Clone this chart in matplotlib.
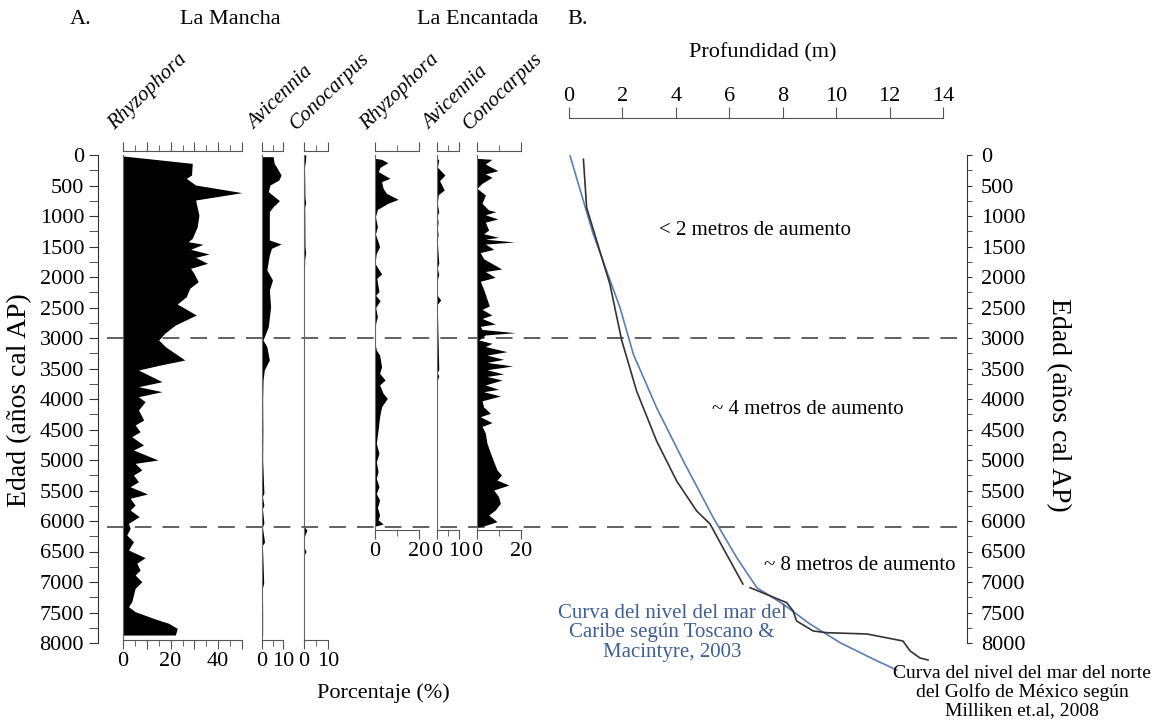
import numpy as np
import matplotlib
matplotlib.use("Agg")
import matplotlib.pyplot as plt
from matplotlib.ticker import FixedLocator, FixedFormatter

plt.rcParams['font.family'] = ['Liberation Serif', 'DejaVu Serif']
plt.rcParams['lines.scale_dashes'] = False

# ---- pollen data: (age cal BP, percent) ----
lm_rhizophora = [(16, 0), (137, 29.1), (328, 28.8), (383, 26.6), (492, 30.5), (617, 50.0), (738, 30.5),
                 (984, 31.9), (1175, 31.2), (1366, 29.1), (1421, 27.4), (1464, 33.6), (1546, 28.4),
                 (1623, 36.2), (1678, 30.5), (1776, 35.5), (1858, 28.4), (1940, 29.8), (2077, 31.6),
                 (2186, 28.0), (2323, 26.6), (2443, 22.8), (2623, 30.8), (2787, 22.0), (2923, 17.5),
                 (3033, 15.0), (3142, 17.8), (3361, 26.0), (3443, 15.7), (3525, 6.5), (3716, 16.4),
                 (3798, 6.5), (3880, 16.4), (3962, 6.5), (4044, 9.3), (4180, 6.5), (4344, 8.7),
                 (4426, 5.1), (4536, 7.2), (4618, 3.7), (4754, 8.6), (4836, 4.4), (5000, 14.7),
                 (5055, 5.1), (5164, 7.9), (5246, 4.4), (5356, 6.5), (5438, 3.0), (5557, 10.3),
                 (5628, 3.0), (5738, 5.1), (5820, 3.0), (5929, 6.8), (6038, 2.3), (6120, 3.0),
                 (6230, 1.6), (6339, 4.4), (6475, 2.3), (6601, 9.3), (6693, 5.8), (6803, 7.2),
                 (6885, 5.1), (6995, 7.9), (7104, 5.1), (7322, 3.7), (7404, 2.3), (7486, 5.1),
                 (7607, 13.6), (7677, 19.2), (7760, 22.8), (7869, 22.0), (7870, 0)]
lm_avicennia = [(27, 5.3), (137, 5.8), (191, 6.8), (328, 9.1), (410, 8.0), (492, 3.8), (601, 3.0),
                (749, 8.3), (847, 5.3), (929, 3.5), (1393, 3.5), (1459, 9.1), (1530, 4.5), (1639, 3.5),
                (1885, 2.3), (2049, 5.0), (2213, 3.5), (2486, 4.1), (2814, 3.0), (3033, 0.5),
                (3142, 2.3), (3361, 3.5), (3525, 1.1), (3689, 0.5), (4000, 0.3), (4500, 0.4),
                (5000, 0.3), (5541, 0.9), (5600, 0.2), (5738, 0.9), (5800, 0.2), (6033, 0.9),
                (6100, 0.2), (6344, 1.2), (6400, 0.2), (7016, 0.8), (7100, 0.2), (7500, 0.3),
                (7870, 0.3), (7871, 0)]
lm_conocarpus = [(0, 0.8), (100, 0.6), (200, 0.2), (700, 0.4), (780, 0.7), (850, 0.3), (1500, 0.4),
                 (1600, 0.7), (1700, 0.3), (2000, 0.1), (6100, 0.2), (6150, 1.2), (6250, 0.2),
                 (6450, 0.2), (6500, 0.9), (6550, 0.1), (7870, 0.1)]
le_rhizophora = [(55, 0), (71, 3.0), (126, 5.8), (202, 2.3), (273, 1.5), (383, 6.8), (437, 3.0),
                 (546, 3.7), (628, 5.2), (727, 10.5), (792, 5.9), (891, 1.1), (1011, 0.2), (1175, 1.1),
                 (1300, 0.2), (1421, 1.4), (1503, 2.1), (1612, 0.6), (1776, 0), (1951, 3.0),
                 (2021, 0.8), (2240, 1.8), (2300, 0.3), (2388, 2.3), (2500, 0.3), (2650, 1.1),
                 (2760, 0.3), (2978, 0), (3087, 0), (3197, 0.6), (3279, 2.1), (3470, 3.0), (3579, 2.1),
                 (3689, 4.6), (3770, 2.1), (3907, 3.7), (3989, 5.6), (4126, 3.0), (4290, 2.1),
                 (4508, 1.4), (4727, 0.6), (4891, 1.8), (5030, 0.6), (5191, 1.4), (5300, 0.6),
                 (5437, 1.8), (5550, 0.6), (5656, 2.1), (5780, 1.1), (5902, 2.1), (5980, 1.4),
                 (6049, 3.7), (6085, 0)]
le_avicennia = [(55, 0), (82, 0.8), (200, 0.2), (328, 3.6), (420, 1.2), (574, 3.3), (650, 0.6),
                (800, 0.1), (929, 0.8), (1000, 0.1), (1100, 0.5), (1200, 0.1), (1300, 0.5), (1400, 0.1),
                (1776, 0.8), (1850, 0.1), (1957, 0.8), (2050, 0.1), (2300, 0.1), (2377, 1.7),
                (2450, 0.1), (3515, 0.8), (3570, 0.1), (3620, 0.8), (3700, 0.1), (6085, 0.1)]
le_conocarpus = [(55, 0), (71, 6.8), (148, 3.8), (257, 9.5), (310, 3.8), (366, 6.8), (464, 2.3),
                 (546, 0), (656, 3.8), (792, 2.3), (902, 5.3), (929, 8.6), (980, 3.8), (1049, 9.5),
                 (1100, 3.8), (1230, 5.3), (1290, 3.0), (1350, 9.8), (1380, 3.8), (1426, 17.0),
                 (1460, 3.8), (1546, 7.6), (1600, 1.5), (1700, 3.0), (1869, 11.2), (1910, 3.8),
                 (2005, 8.3), (2070, 1.5), (2200, 3.0), (2475, 5.6), (2530, 2.3), (2623, 6.8),
                 (2680, 2.3), (2770, 8.3), (2810, 1.5), (2860, 2.3), (2913, 17.4), (2950, 3.8),
                 (3033, 0.8), (3087, 6.8), (3140, 3.8), (3224, 13.6), (3280, 4.5), (3350, 12.1),
                 (3400, 4.5), (3459, 16.2), (3520, 4.5), (3590, 12.1), (3630, 4.5), (3689, 11.4),
                 (3770, 3.8), (3841, 9.8), (3880, 3.0), (3951, 10.6), (4030, 2.3), (4130, 3.0),
                 (4235, 6.1), (4290, 1.5), (4388, 6.8), (4450, 2.3), (4560, 3.8), (4721, 4.5),
                 (4885, 6.1), (5027, 7.6), (5164, 9.1), (5246, 11.1), (5330, 9.1), (5410, 14.5),
                 (5492, 7.6), (5601, 9.8), (5710, 10.6), (5820, 8.3), (5902, 5.3), (6011, 9.1),
                 (6082, 3.0), (6100, 0)]

# ---- sea level curves: (depth m, age cal BP) ----
toscano_caribe = [(0.04, 16), (0.91, 1300), (1.91, 2503), (2.41, 3267), (3.28, 4143), (4.28, 5016),
                  (5.40, 5946), (6.28, 6602), (7.03, 7093), (8.01, 7361), (9.02, 7689), (10.15, 7995),
                  (11.38, 8262), (12.27, 8443)]
milliken_upper = [(0.54, 70), (0.66, 864), (1.04, 1410), (1.53, 2115), (1.97, 3033), (2.53, 3869),
                  (3.28, 4689), (4.03, 5344), (4.78, 5836), (5.28, 6049), (5.77, 6443), (6.51, 7033)]
milliken_lower = [(6.78, 7093), (8.15, 7339), (8.39, 7475), (8.52, 7639), (9.14, 7803), (9.65, 7831),
                  (11.15, 7852), (12.50, 7967), (12.77, 8131), (13.14, 8246), (13.44, 8279)]

zone_limits = [3000, 6100]
age_ticks = np.arange(0, 8001, 500)
depth_ticks = np.arange(0, 15, 2)

W, H = 1155, 727
AGE_TOP = (100 - 155) / 0.061
AGE_BOT = (700 - 155) / 0.061


def rect(x0, x1):
    return [x0 / W, 1 - 700 / H, (x1 - x0) / W, 600 / H]


fig = plt.figure(figsize=(W / 100, H / 100), dpi=100)

# frame with both age axes and the zone lines
frame = fig.add_axes(rect(98, 967))
frame.set_facecolor('none')
frame.set_xlim(0, 1)
frame.set_ylim(AGE_BOT, AGE_TOP)
for s in ['top', 'bottom']:
    frame.spines[s].set_visible(False)
for s in ['left', 'right']:
    frame.spines[s].set_bounds(0, 8000)
    frame.spines[s].set_color('#333333')
frame.set_xticks([])
frame.yaxis.set_major_locator(FixedLocator(age_ticks))
frame.yaxis.set_minor_locator(FixedLocator(age_ticks[:-1] + 250))
frame.tick_params(axis='y', which='both', left=True, right=True, labelleft=True, labelright=True,
                  direction='out', labelsize=16, color='#333333', length=6.5, pad=3.5)
for t in frame.yaxis.get_major_ticks() + frame.yaxis.get_minor_ticks():
    t.tick2line.set_markersize(3.5)
for z in zone_limits:
    frame.axhline(z, xmin=(107 - 98) / (967 - 98), xmax=(960 - 98) / (967 - 98),
                  color='#555555', lw=1.3, dashes=(12, 8))

# panel B: sea level curves
axb = fig.add_axes(rect(569, 943))
axb.set_facecolor('none')
axb.set_xlim(0, 14)
axb.set_ylim(AGE_BOT, AGE_TOP)
for s in ['left', 'right', 'bottom']:
    axb.spines[s].set_visible(False)
axb.spines['top'].set_position(('data', (118 - 155) / 0.061))
axb.spines['top'].set_color('#555555')
axb.set_yticks([])
axb.set_xticks(depth_ticks)
axb.tick_params(axis='x', top=True, bottom=False, labeltop=True, labelbottom=False,
                direction='out', length=8, pad=1, labelsize=16, color='#555555')
d, a = zip(*toscano_caribe)
axb.plot(d, a, color='#5a7db5', lw=1.2, clip_on=False)
for seg in [milliken_upper, milliken_lower]:
    d, a = zip(*seg)
    axb.plot(d, a, color='#333333', lw=1.2, clip_on=False)

# panel A: pollen diagrams
panels = [
    ('Rhyzophora', lm_rhizophora, 123, 242, 50, [0, 10, 20, 30, 40, 50], ['0', '', '20', '', '40', ''],
     [5, 15, 25, 35, 45], 7950),
    ('Avicennia', lm_avicennia, 262, 283, 10, [0, 10], ['0', '10'], [5], 7950),
    ('Conocarpus', lm_conocarpus, 304, 328, 10, [0, 10], ['0', '10'], [5], 7950),
    ('Rhyzophora', le_rhizophora, 375, 419, 20, [0, 20], ['0', '20'], [10], 6150),
    ('Avicennia', le_avicennia, 437, 459, 10, [0, 10], ['0', '10'], [5], 6150),
    ('Conocarpus', le_conocarpus, 477, 521, 20, [0, 20], ['0', '20'], [10], 6150),
]
for name, data, x0, x1, xmax, major, labels, minor, bottom in panels:
    ax = fig.add_axes(rect(x0, x1))
    ax.set_facecolor('none')
    ax.set_xlim(0, xmax)
    ax.set_ylim(AGE_BOT, AGE_TOP)
    a, v = zip(*data)
    ax.fill_betweenx(a, 0, v, color='black', lw=0, clip_on=False)
    ax.spines['right'].set_visible(False)
    ax.spines['left'].set_bounds(0, bottom)
    ax.spines['left'].set_color('#666666')
    ax.spines['top'].set_position(('data', -65))
    ax.spines['bottom'].set_position(('data', bottom))
    for s in ['top', 'bottom']:
        ax.spines[s].set_bounds(0, xmax)
        ax.spines[s].set_color('#555555')
    ax.set_yticks([])
    ax.xaxis.set_major_locator(FixedLocator(major))
    ax.xaxis.set_major_formatter(FixedFormatter(labels))
    ax.xaxis.set_minor_locator(FixedLocator(minor))
    ax.tick_params(axis='x', which='both', top=True, bottom=True, labeltop=False, labelbottom=True,
                   direction='out', color='#555555', labelsize=16)
    ax.tick_params(axis='x', which='major', length=6.5, pad=2)
    ax.tick_params(axis='x', which='minor', length=4)
    fig.text((x0 - 8) / W, 1 - 130 / H, name, rotation=44, rotation_mode='anchor',
             ha='left', va='baseline', style='italic', fontsize=15)

# texts
def ftext(x, y, s, **kw):
    fig.text(x / W, 1 - y / H, s, **kw)

ftext(70, 20, 'A.', fontsize=16, ha='left', va='center')
ftext(230, 20, 'La Mancha', fontsize=16, ha='center', va='center')
ftext(478, 20, 'La Encantada', fontsize=16, ha='center', va='center')
ftext(567, 20, 'B.', fontsize=16, ha='left', va='center')
ftext(763, 53, 'Profundidad (m)', fontsize=16, ha='center', va='center')
ftext(20, 400, 'Edad (años cal AP)', fontsize=20, ha='center', va='center', rotation=90)
ftext(1058, 405, 'Edad (años cal AP)', fontsize=20, ha='center', va='center', rotation=270)
ftext(383, 693, 'Porcentaje (%)', fontsize=16, ha='center', va='center')
ftext(755, 230, '< 2 metros de aumento', fontsize=15, ha='center', va='center')
ftext(808, 410, '~ 4 metros de aumento', fontsize=15, ha='center', va='center')
ftext(860, 566, '~ 8 metros de aumento', fontsize=15, ha='center', va='center')
ftext(672, 633, 'Curva del nivel del mar del\nCaribe según Toscano &\nMacintyre, 2003', fontsize=15,
      ha='center', va='center', color='#3f5f95', linespacing=1.05)
ftext(1022, 692, 'Curva del nivel del mar del norte\ndel Golfo de México según\nMilliken et.al, 2008',
      fontsize=14, ha='center', va='center', linespacing=1.05)

fig.savefig('out.png', dpi=100)
